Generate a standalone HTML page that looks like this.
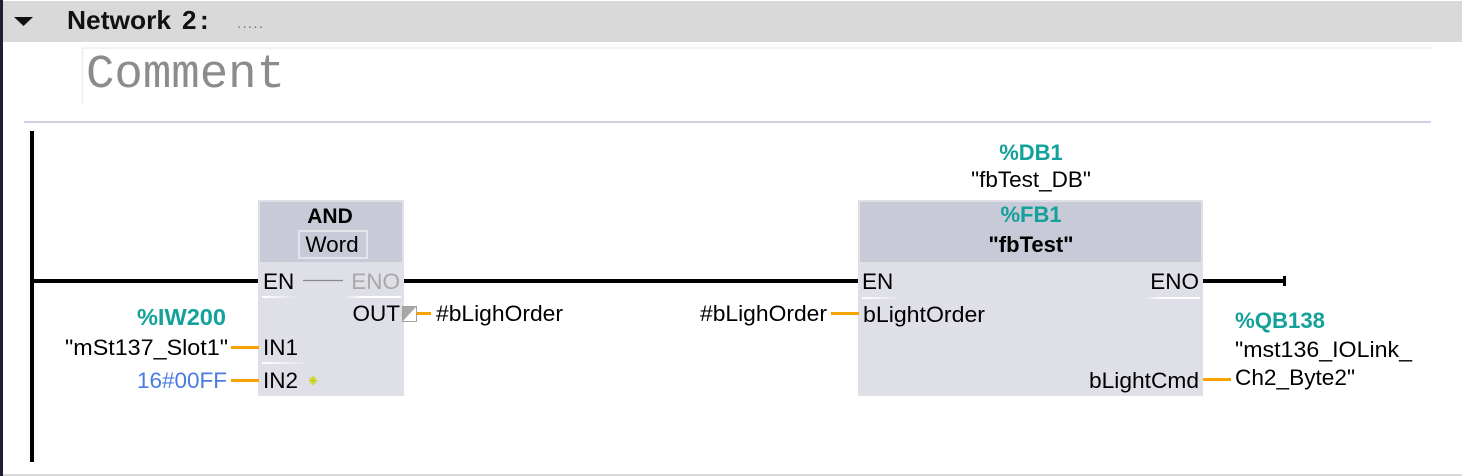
<!DOCTYPE html>
<html><head><meta charset="utf-8"><style>
html,body{margin:0;padding:0;background:#fff;}
body{width:1462px;height:476px;overflow:hidden;}
svg{display:block;}
text{font-family:"Liberation Sans",Arial,sans-serif;}
</style></head><body>
<svg width="1462" height="476" viewBox="0 0 1462 476" xmlns="http://www.w3.org/2000/svg">
<defs>
<linearGradient id="fadeR" x1="0" x2="1" y1="0" y2="0"><stop offset="0" stop-color="#fff"/><stop offset="1" stop-color="#fff" stop-opacity="0"/></linearGradient>
<linearGradient id="fadeL" x1="0" x2="1" y1="0" y2="0"><stop offset="0" stop-color="#fff" stop-opacity="0"/><stop offset="0.3" stop-color="#fff"/><stop offset="1" stop-color="#fff"/></linearGradient>
</defs>
<rect x="0" y="0" width="1462" height="476" fill="#fff"/>
<!-- header -->
<rect x="3" y="1" width="1459" height="41" fill="#d9d9d9"/>
<polygon points="14,17 33,17 23.5,26" fill="#111"/>
<text x="67" y="29" font-size="26" font-weight="bold" fill="#111" textLength="104" lengthAdjust="spacingAndGlyphs">Network</text>
<text x="182" y="29" font-size="26" font-weight="bold" fill="#111">2</text>
<text x="200" y="29" font-size="26" font-weight="bold" fill="#111">:</text>
<text x="237" y="28" font-size="15" fill="#777" letter-spacing="1.3">.....</text>
<!-- comment -->
<line x1="82" y1="48" x2="1432" y2="48" stroke="#eeeeee" stroke-width="1.5"/>
<line x1="82.5" y1="48" x2="82.5" y2="103" stroke="#eeeeee" stroke-width="1.5"/>
<text x="86" y="87" font-size="47" fill="#8c8c8c" style="font-family:'Liberation Mono',monospace" textLength="199" lengthAdjust="spacingAndGlyphs">Comment</text>
<rect x="24" y="121" width="1407" height="2" fill="#d2d0e6"/>
<!-- left strip and bottom -->
<rect x="0" y="0" width="3" height="476" fill="#1c2030"/>
<rect x="3" y="474" width="1459" height="2" fill="#dadada"/>
<!-- power rail -->
<rect x="30" y="131" width="4" height="331" fill="#000"/>
<!-- main rung -->
<rect x="33" y="279" width="226" height="4" fill="#000"/>
<rect x="403" y="279" width="456" height="4" fill="#000"/>
<rect x="1203" y="279" width="83" height="4" fill="#000"/>
<rect x="1283" y="276" width="3" height="10" fill="#000"/>

<!-- AND box -->
<rect x="258" y="200" width="146" height="196" fill="#dfdfe8"/>
<rect x="260" y="202" width="142" height="60" fill="#c9cad8"/>
<text x="330" y="223" font-size="21" font-weight="bold" text-anchor="middle" fill="#000">AND</text>
<rect x="299" y="231" width="68" height="27" fill="none" stroke="#e4e4ec" stroke-width="2"/>
<text x="332" y="252" font-size="22.5" text-anchor="middle" fill="#000">Word</text>
<text x="263" y="289" font-size="22.5" fill="#000">EN</text>
<line x1="303" y1="280.5" x2="343" y2="280.5" stroke="#888" stroke-width="1.2"/>
<text x="400" y="289" font-size="22.5" text-anchor="end" fill="#a8a8a8">ENO</text>
<rect x="262" y="296" width="36" height="2" fill="url(#fadeR)"/>
<rect x="345" y="296" width="56" height="2" fill="url(#fadeL)"/>
<text x="400" y="321" font-size="22.5" text-anchor="end" fill="#000">OUT</text>
<rect x="402.5" y="306.5" width="14" height="15" fill="#fff" stroke="#a0a0a0" stroke-width="1"/>
<polygon points="403,321 416,307 403,307" fill="#a8a8a8"/>
<rect x="417" y="312" width="14" height="3" fill="#f7a400"/>
<text x="436" y="321" font-size="22.5" fill="#000" textLength="127" lengthAdjust="spacingAndGlyphs">#bLighOrder</text>
<text x="263" y="355" font-size="22.5" fill="#000">IN1</text>
<rect x="262" y="362" width="50" height="2" fill="url(#fadeR)"/>
<text x="263" y="388" font-size="22.5" fill="#000">IN2</text>
<g stroke="#c8d000" stroke-width="1.2">
<line x1="313" y1="376" x2="313" y2="385"/><line x1="308.5" y1="380.5" x2="317.5" y2="380.5"/>
<line x1="310" y1="377.5" x2="316" y2="383.5"/><line x1="316" y1="377.5" x2="310" y2="383.5"/>
</g>
<!-- inputs -->
<text x="137" y="325" font-size="23" font-weight="bold" fill="#14a09b" textLength="89" lengthAdjust="spacingAndGlyphs">%IW200</text>
<text x="65" y="355" font-size="22.5" fill="#000" textLength="163" lengthAdjust="spacingAndGlyphs">"mSt137_Slot1"</text>
<rect x="231" y="346" width="28" height="3" fill="#f7a400"/>
<text x="137" y="388" font-size="22.5" fill="#4a7be0" textLength="90" lengthAdjust="spacingAndGlyphs">16#00FF</text>
<rect x="231" y="379" width="28" height="3" fill="#f7a400"/>

<!-- FB -->
<text x="1031" y="160" font-size="22" font-weight="bold" text-anchor="middle" fill="#14a09b">%DB1</text>
<text x="1031" y="187" font-size="22.5" text-anchor="middle" fill="#000">"fbTest_DB"</text>
<rect x="858" y="200" width="345" height="196" fill="#dfdfe8"/>
<rect x="860" y="202" width="341" height="60" fill="#c9cad8"/>
<text x="1031" y="222" font-size="22" font-weight="bold" text-anchor="middle" fill="#14a09b">%FB1</text>
<text x="1031" y="252" font-size="22" font-weight="bold" text-anchor="middle" fill="#000">"fbTest"</text>
<text x="862" y="289" font-size="22.5" fill="#000">EN</text>
<rect x="862" y="297" width="40" height="2" fill="url(#fadeR)"/>
<text x="1199" y="289" font-size="22.5" text-anchor="end" fill="#000">ENO</text>
<rect x="1145" y="297" width="55" height="2" fill="url(#fadeL)"/>
<text x="863" y="322" font-size="22.5" fill="#000" textLength="122" lengthAdjust="spacingAndGlyphs">bLightOrder</text>
<text x="1089" y="388" font-size="22.5" fill="#000" textLength="110" lengthAdjust="spacingAndGlyphs">bLightCmd</text>
<text x="700" y="321" font-size="22.5" fill="#000" textLength="127" lengthAdjust="spacingAndGlyphs">#bLighOrder</text>
<rect x="831" y="312" width="28" height="3" fill="#f7a400"/>
<rect x="1203" y="378" width="28" height="3" fill="#f7a400"/>
<text x="1235" y="328" font-size="22" font-weight="bold" fill="#14a09b" textLength="90" lengthAdjust="spacingAndGlyphs">%QB138</text>
<text x="1235" y="357" font-size="22.5" fill="#000" textLength="177" lengthAdjust="spacingAndGlyphs">"mst136_IOLink_</text>
<text x="1235" y="385" font-size="22.5" fill="#000" textLength="120" lengthAdjust="spacingAndGlyphs">Ch2_Byte2"</text>
</svg>
</body></html>
